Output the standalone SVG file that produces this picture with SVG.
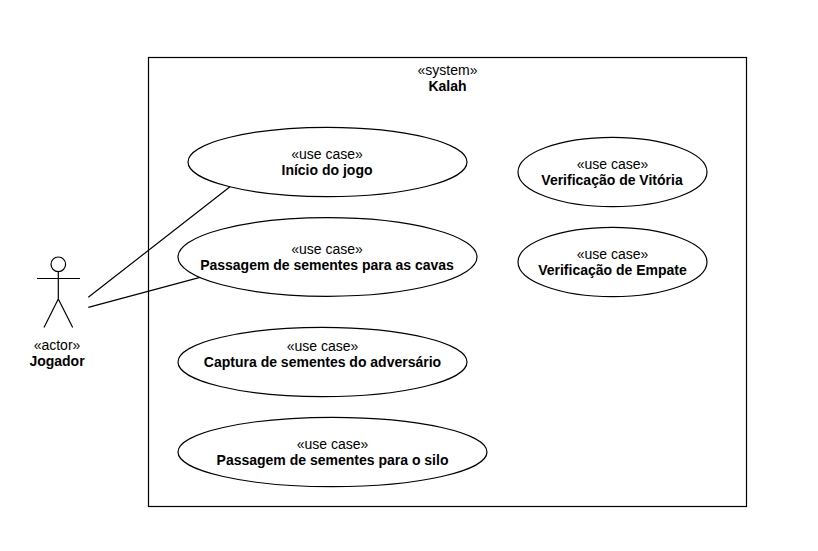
<svg xmlns="http://www.w3.org/2000/svg" width="818" height="551" viewBox="0 0 818 551">
<style>
text{font-family:"Liberation Sans",Arial,sans-serif;font-size:14px;fill:#000;text-anchor:middle}
.b{font-weight:bold}
.s{fill:#fff;stroke:#000;stroke-width:1.2}
.l{fill:none;stroke:#000;stroke-width:1.2}
</style>
<rect width="818" height="551" fill="#fff"/>
<g id="system"><rect class="s" x="148.500" y="57.500" width="598" height="449"/><text x="447.500" y="75">«system»</text><text class="b" x="447.500" y="91">Kalah</text></g>
<g id="actor"><circle class="l" cx="58.300" cy="264.300" r="7.300"/><path class="l" d="M58.300 271.600V299M37 278.500H80M58.300 299L44 327.500M58.300 299L72.700 327.500"/><text x="57" y="350">«actor»</text><text class="b" x="57" y="366">Jogador</text></g>
<g id="connectors"><path class="l" d="M88.300 297.300L230 186.700M88.300 307.300L200 277.300"/></g>
<g id="uc1"><ellipse class="s" cx="327.500" cy="162" rx="139.500" ry="34.700"/><text x="327" y="159">«use case»</text><text class="b" x="327" y="175">Início do jogo</text></g>
<g id="uc2"><ellipse class="s" cx="327.500" cy="257" rx="149.500" ry="39.300"/><text x="327" y="254">«use case»</text><text class="b" x="327" y="270">Passagem de sementes para as cavas</text></g>
<g id="uc3"><ellipse class="s" cx="322.500" cy="362" rx="144.500" ry="34.700"/><text x="322.500" y="351">«use case»</text><text class="b" x="322.500" y="367">Captura de sementes do adversário</text></g>
<g id="uc4"><ellipse class="s" cx="332.500" cy="452" rx="154.500" ry="34.700"/><text x="332.500" y="449">«use case»</text><text class="b" x="332.500" y="465">Passagem de sementes para o silo</text></g>
<g id="uc5"><ellipse class="s" cx="612.500" cy="172" rx="94.500" ry="34.700"/><text x="612.500" y="169">«use case»</text><text class="b" x="612" y="185">Verificação de Vitória</text></g>
<g id="uc6"><ellipse class="s" cx="612.500" cy="262" rx="94.500" ry="34.700"/><text x="612.500" y="259">«use case»</text><text class="b" x="612.500" y="275">Verificação de Empate</text></g>
</svg>
